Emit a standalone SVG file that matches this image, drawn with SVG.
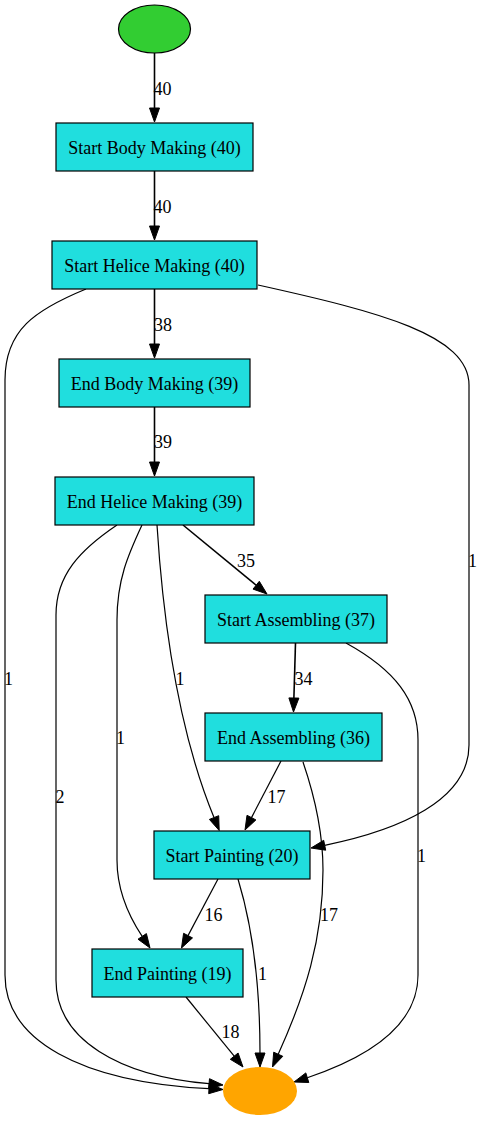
<svg xmlns="http://www.w3.org/2000/svg" width="484" height="1121" viewBox="0 0 484 1121">
<style>
.box{fill:#20dede;stroke:#000;stroke-width:1.2}
.t{font-family:"Liberation Serif","Times New Roman",serif;font-size:18px;fill:#000;text-anchor:middle}
.e{fill:none;stroke:#000;stroke-width:1.2}
.ew{fill:none;stroke:#000;stroke-width:1.6}
.a{fill:#000;stroke:#000;stroke-width:1}
</style>
<rect width="484" height="1121" fill="#fff"/>
<g id="edges">
<path class="ew" d="M154.5,53 L154.5,108"/><polygon class="a" points="149.5,108 154.5,122 159.5,108"/>
<text class="t" x="162.5" y="95">40</text>
<path class="ew" d="M154.5,171 L154.5,226"/><polygon class="a" points="149.5,226 154.5,240 159.5,226"/>
<text class="t" x="162.5" y="213">40</text>
<path class="ew" d="M154.5,289 L154.5,344"/><polygon class="a" points="149.5,344 154.5,358 159.5,344"/>
<text class="t" x="163" y="331">38</text>
<path class="ew" d="M154.5,407 L154.5,462"/><polygon class="a" points="149.5,462 154.5,476 159.5,462"/>
<text class="t" x="163" y="448">39</text>
<path class="ew" d="M183,525 L256.1,585.2"/><polygon class="a" points="253,589.1 267,594 259.3,581.3"/>
<text class="t" x="246" y="567">35</text>
<path class="ew" d="M295.5,643 L293.9,698"/><polygon class="a" points="288.9,697.9 293.5,712 298.9,698.1"/>
<text class="t" x="303.5" y="685">34</text>
<path class="e" d="M281,761 L251.5,817.6"/><polygon class="a" points="247,815.3 245,830 255.9,819.9"/>
<text class="t" x="276.5" y="803">17</text>
<path class="e" d="M218,879 L188,935.6"/><polygon class="a" points="183.6,933.3 181.5,948 192.5,937.9"/>
<text class="t" x="213.5" y="921">16</text>
<path class="e" d="M186,997 L234.2,1056.2"/><polygon class="a" points="230.3,1059.3 243,1067 238.1,1053"/>
<text class="t" x="230.5" y="1038">18</text>
<path class="e" d="M238,879 C252,925 260,980 260,1053"/><polygon class="a" points="255,1053 260,1067 265,1053"/>
<text class="t" x="262.5" y="980">1</text>
<path class="e" d="M303,762 C316,800 323,835 323,870 C323,940 305,995 278.2,1054.2"/><polygon class="a" points="273.7,1052.2 272.5,1067 282.8,1056.3"/>
<text class="t" x="329" y="921">17</text>
<path class="e" d="M346,643 C395,670 418,700 418,740 L418,975 C418,1030 360,1060 307.3,1077.7"/><polygon class="a" points="305.8,1072.9 294,1082 308.8,1082.5"/>
<text class="t" x="421.5" y="862">1</text>
<path class="e" d="M258,285 C380,312 469,335 469,385 L469,745 C469,800 400,830 324.7,845.3"/><polygon class="a" points="323.7,840.3 311,848 325.7,850.2"/>
<text class="t" x="472.5" y="567">1</text>
<path class="e" d="M86,289 C35,310 5,330 5,380 L5,975 C5,1040 80,1082 209,1088.7"/><polygon class="a" points="208.7,1093.7 223,1089.5 209.3,1083.7"/>
<text class="t" x="8.5" y="685">1</text>
<path class="e" d="M117,525 C80,550 56,575 56,615 L56,980 C56,1040 120,1076 209,1083.7"/><polygon class="a" points="208.6,1088.7 223,1085 209.5,1078.7"/>
<text class="t" x="60" y="803">2</text>
<path class="e" d="M142,525 C128,555 117,580 117,620 L117,860 C117,893 130,918 142.2,936.4"/><polygon class="a" points="138,939.2 150,948 146.4,933.6"/>
<text class="t" x="120.5" y="744">1</text>
<path class="e" d="M157,525 C163,620 178,730 214,817.5"/><polygon class="a" points="209.4,819.4 219.2,830.5 218.7,815.7"/>
<text class="t" x="180" y="685">1</text>
</g>
<g id="start"><ellipse cx="154.5" cy="29" rx="36" ry="24" fill="#32cd32" stroke="#000" stroke-width="1.2"/></g>
<g id="end"><ellipse cx="260" cy="1091" rx="37" ry="24" fill="#ffa500"/></g>
<g id="start_body_making"><rect class="box" x="56" y="123" width="197" height="48"/><text class="t" x="154.5" y="153.5">Start Body Making (40)</text></g>
<g id="start_helice_making"><rect class="box" x="52" y="241" width="205" height="48"/><text class="t" x="154.5" y="271.5">Start Helice Making (40)</text></g>
<g id="end_body_making"><rect class="box" x="59" y="359" width="191" height="48"/><text class="t" x="154.5" y="389.5">End Body Making (39)</text></g>
<g id="end_helice_making"><rect class="box" x="55" y="477" width="199" height="48"/><text class="t" x="154.5" y="507.5">End Helice Making (39)</text></g>
<g id="start_assembling"><rect class="box" x="205" y="595" width="182" height="48"/><text class="t" x="296" y="625.5">Start Assembling (37)</text></g>
<g id="end_assembling"><rect class="box" x="205" y="713" width="177" height="48"/><text class="t" x="293.5" y="743.5">End Assembling (36)</text></g>
<g id="start_painting"><rect class="box" x="154" y="831" width="156" height="48"/><text class="t" x="232" y="861.5">Start Painting (20)</text></g>
<g id="end_painting"><rect class="box" x="92" y="949" width="151" height="48"/><text class="t" x="167.5" y="979.5">End Painting (19)</text></g>
</svg>
